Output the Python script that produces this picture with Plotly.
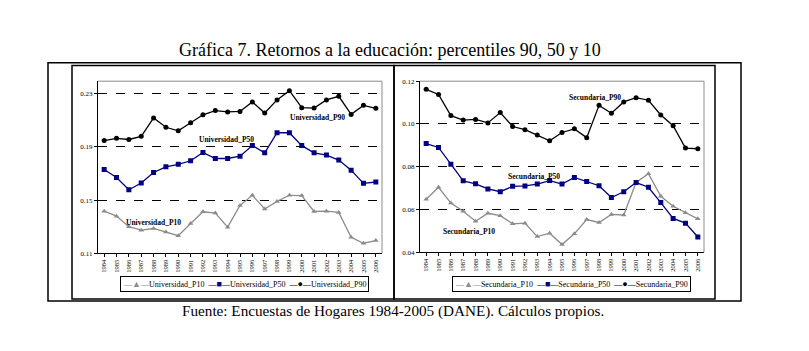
import plotly.graph_objects as go

years = list(range(1984, 2007))
year_labels = [str(y) for y in years]

uni_p10 = [0.1416, 0.1379, 0.1300, 0.1273, 0.1286, 0.1259, 0.1232, 0.1323, 0.1412, 0.1402,
           0.1296, 0.1459, 0.1536, 0.1433, 0.1490, 0.1536, 0.1534, 0.1414, 0.1416, 0.1407,
           0.1220, 0.1175, 0.1195]
uni_p50 = [0.1730, 0.1670, 0.1578, 0.1628, 0.1708, 0.1750, 0.1769, 0.1796, 0.1859, 0.1813,
           0.1813, 0.1830, 0.1910, 0.1856, 0.2007, 0.2007, 0.1910, 0.1856, 0.1839, 0.1801,
           0.1725, 0.1626, 0.1636]
uni_p90 = [0.1948, 0.1965, 0.1956, 0.1980, 0.2118, 0.2048, 0.2021, 0.2082, 0.2142, 0.2174,
           0.2164, 0.2167, 0.2239, 0.2155, 0.2254, 0.2324, 0.2196, 0.2193, 0.2254, 0.2281,
           0.2145, 0.2213, 0.2191]

sec_p10 = [0.0648, 0.0704, 0.0630, 0.0592, 0.0545, 0.0582, 0.0571, 0.0533, 0.0536, 0.0473,
           0.0489, 0.0436, 0.0486, 0.0553, 0.0539, 0.0577, 0.0574, 0.0726, 0.0767, 0.0662,
           0.0615, 0.0585, 0.0556]
sec_p50 = [0.0908, 0.0890, 0.0812, 0.0734, 0.0720, 0.0696, 0.0683, 0.0708, 0.0710, 0.0719,
           0.0735, 0.0719, 0.0750, 0.0731, 0.0711, 0.0656, 0.0683, 0.0726, 0.0704, 0.0632,
           0.0558, 0.0536, 0.0471]
sec_p90 = [0.1162, 0.1138, 0.1039, 0.1018, 0.1021, 0.1005, 0.1053, 0.0988, 0.0973, 0.0948,
           0.0921, 0.0960, 0.0977, 0.0936, 0.1087, 0.1050, 0.1103, 0.1123, 0.1111, 0.1042,
           0.0992, 0.0887, 0.0884]

uni_ticks = [0.11, 0.15, 0.19, 0.23]
sec_ticks = [0.04, 0.06, 0.08, 0.10, 0.12]

title_text = "Gráfica 7. Retornos a la educación: percentiles 90, 50 y 10"
source_text = "Fuente: Encuestas de Hogares 1984-2005 (DANE). Cálculos propios."

SERIF = "Liberation Serif"
GRAY = "#8c8c8c"
NAVY = "#000080"
BLACK = "#000000"

W, H = 809, 351

def px(x):
    return x / W

def py(y):
    return 1 - y / H

fig = go.Figure()

series_specs = [
    ("Universidad_P10", uni_p10, GRAY, "triangle-up", "▲", "x", "y"),
    ("Universidad_P50", uni_p50, NAVY, "square", "■", "x", "y"),
    ("Universidad_P90", uni_p90, BLACK, "circle", "●", "x", "y"),
    ("Secundaria_P10", sec_p10, GRAY, "triangle-up", "▲", "x2", "y2"),
    ("Secundaria_P50", sec_p50, NAVY, "square", "■", "x2", "y2"),
    ("Secundaria_P90", sec_p90, BLACK, "circle", "●", "x2", "y2"),
]
for name, vals, col, sym, glyph, xa, ya in series_specs:
    fig.add_trace(go.Scatter(
        x=years, y=vals, name=name, mode="lines+markers",
        line=dict(color=col, width=1.3),
        marker=dict(color=col, symbol=sym, size=5),
        xaxis=xa, yaxis=ya, showlegend=False,
    ))

xcommon = dict(
    tickmode="array", tickvals=years, ticktext=year_labels, tickangle=-90,
    range=[1983.5, 2006.5], showgrid=False, zeroline=False,
    showline=True, linecolor="black", linewidth=1,
    ticks="outside", ticklen=3, tickcolor="black",
    tickfont=dict(family=SERIF, size=6.5, color="black"),
)
ycommon = dict(
    showgrid=True, gridcolor="black", griddash="dash", gridwidth=1,
    zeroline=False, showline=True, linecolor="black", linewidth=1,
    ticks="outside", ticklen=3, tickcolor="black", tickformat=".2f",
    tickfont=dict(family=SERIF, size=7, color="black"),
)

fig.update_layout(
    width=W, height=H, margin=dict(l=0, r=0, t=0, b=0),
    paper_bgcolor="white", plot_bgcolor="white",
    xaxis=dict(domain=[px(98), px(382)], anchor="y", **xcommon),
    yaxis=dict(domain=[py(255), py(79)], anchor="x", range=[0.11, 0.2395],
               tickmode="array", tickvals=uni_ticks, **ycommon),
    xaxis2=dict(domain=[px(420), px(704)], anchor="y2", **xcommon),
    yaxis2=dict(domain=[py(254), py(79)], anchor="x2", range=[0.04, 0.12],
                tickmode="array", tickvals=sec_ticks, **ycommon),
    showlegend=False,
)

# frames
shapes = [
    dict(type="rect", xref="paper", yref="paper", x0=px(48), x1=px(741), y0=py(304), y1=py(60),
         line=dict(color="black", width=1.5), layer="below"),
    dict(type="rect", xref="paper", yref="paper", x0=px(72), x1=px(394), y0=py(302), y1=py(63),
         line=dict(color="black", width=1.5), layer="below"),
    dict(type="rect", xref="paper", yref="paper", x0=px(394), x1=px(715), y0=py(302), y1=py(63),
         line=dict(color="black", width=1.5), layer="below"),
    dict(type="line", xref="x domain", yref="y domain", x0=0, x1=1, y0=1, y1=1,
         line=dict(color=GRAY, width=1), layer="above"),
    dict(type="line", xref="x domain", yref="y domain", x0=1, x1=1, y0=0, y1=1,
         line=dict(color=GRAY, width=1), layer="above"),
    dict(type="line", xref="x2 domain", yref="y2 domain", x0=0, x1=1, y0=1, y1=1,
         line=dict(color=GRAY, width=1), layer="above"),
    dict(type="line", xref="x2 domain", yref="y2 domain", x0=1, x1=1, y0=0, y1=1,
         line=dict(color=GRAY, width=1), layer="above"),
]
fig.update_layout(shapes=shapes)

labels = [
    ("Universidad_P90", 2001.3, 0.2118, "x", "y"),
    ("Universidad_P50", 1993.9, 0.1959, "x", "y"),
    ("Universidad_P10", 1988.0, 0.1330, "x", "y"),
    ("Secundaria_P90", 1997.7, 0.1122, "x2", "y2"),
    ("Secundaria_P50", 1992.7, 0.0753, "x2", "y2"),
    ("Secundaria_P10", 1987.5, 0.0497, "x2", "y2"),
]
annotations = []
for txt, xv, yv, xa, ya in labels:
    annotations.append(dict(text="<b>" + txt + "</b>", x=xv, y=yv, xref=xa, yref=ya,
                            showarrow=False, font=dict(family=SERIF, size=7.5, color="black")))


def legend_text(specs):
    parts = []
    for name, _, col, _, glyph, _, _ in specs:
        parts.append('<span style="color:%s">—<span style="font-size:9px">%s</span>—</span>%s'
                     % (col, glyph, name))
    return "  ".join(parts)


annotations.append(dict(text=legend_text(series_specs[:3]), x=px(244), y=py(287),
                        xref="paper", yref="paper", showarrow=False,
                        xanchor="center", yanchor="middle",
                        bgcolor="white", bordercolor="black", borderwidth=1, borderpad=2,
                        font=dict(family=SERIF, size=8, color="black")))
annotations.append(dict(text=legend_text(series_specs[3:]), x=px(571), y=py(287),
                        xref="paper", yref="paper", showarrow=False,
                        xanchor="center", yanchor="middle",
                        bgcolor="white", bordercolor="black", borderwidth=1, borderpad=2,
                        font=dict(family=SERIF, size=8, color="black")))
annotations.append(dict(text=title_text, x=px(390), y=py(47), xref="paper", yref="paper",
                        showarrow=False, xanchor="center", yanchor="middle",
                        font=dict(family=SERIF, size=18, color="black")))
annotations.append(dict(text=source_text, x=px(393), y=py(314), xref="paper", yref="paper",
                        showarrow=False, xanchor="center", yanchor="middle",
                        font=dict(family=SERIF, size=15.2, color="black")))
fig.update_layout(annotations=annotations)

fig.write_html("out.html")
